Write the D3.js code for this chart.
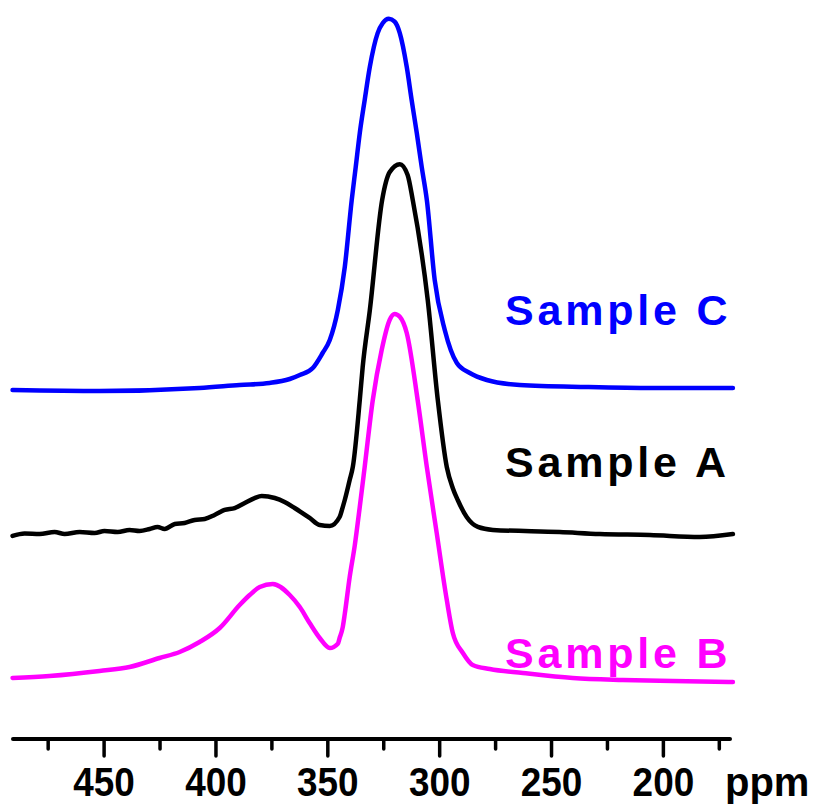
<!DOCTYPE html>
<html lang="en">

<head>
  <meta charset="UTF-8">
  <title>NMR spectra</title>
  <style>
    body { margin: 0; background: #fff; }
    svg { display: block; }
  </style>
</head>

<body>
  <svg></svg>
  <script src="https://cdn.jsdelivr.net/npm/d3@7"></script>
  <script>
    // chemical shift (ppm), relative intensity above each trace's own baseline
    var sampleB = [
      [490.7, 0.83], [474.2, 1.11], [451.8, 1.81], [438.4, 2.36], [425.0, 3.61],
      [416.0, 4.44], [407.1, 5.83], [398.1, 7.78], [389.2, 10.97], [384.7, 12.36],
      [380.2, 13.47], [374.4, 13.89], [366.8, 12.36], [362.3, 10.69], [357.9, 8.47],
      [353.4, 6.39], [348.9, 5.0], [345.3, 5.6], [344.5, 6.39], [343.1, 7.9],
      [342.2, 9.72], [340.0, 14.86], [337.7, 19.31], [335.5, 24.58], [333.3, 30.14],
      [329.7, 39.4], [325.7, 46.4], [322.1, 50.6], [319.9, 51.4], [317.6, 51.0],
      [314.5, 48.75], [309.6, 39.4], [305.5, 30.1], [301.1, 20.97], [296.6, 11.67],
      [293.9, 7.08], [289.4, 4.31], [285.0, 2.64], [277.4, 2.08], [262.6, 1.53],
      [240.3, 0.83], [217.9, 0.56], [195.5, 0.42], [168.7, 0.28]
    ];
    var sampleA = [
      [490.7, 0.56], [485.3, 0.90], [478.6, 0.83], [471.9, 1.11], [467.4, 0.83],
      [460.7, 1.11], [454.0, 0.97], [449.6, 1.25], [443.7, 1.11], [438.4, 1.39],
      [433.9, 1.25], [429.4, 1.53], [425.9, 1.81], [422.7, 1.53], [418.2, 2.22],
      [413.8, 2.36], [409.3, 2.78], [404.8, 2.92], [400.4, 3.47], [395.9, 4.17],
      [391.4, 4.44], [386.9, 5.14], [382.5, 5.83], [379.3, 6.11], [373.5, 5.83],
      [369.1, 5.28], [364.6, 4.44], [357.9, 3.06], [353.4, 2.08], [348.9, 1.94],
      [344.5, 3.19], [343.1, 4.58], [342.2, 5.56], [340.0, 8.33], [338.6, 10.14],
      [335.5, 19.4], [334.2, 24.0], [331.0, 31.9], [325.5, 47.2], [322.1, 51.1],
      [317.6, 52.2], [314.1, 50.7], [311.8, 47.2], [305.1, 33.3], [300.6, 19.4],
      [296.6, 10.14], [293.9, 7.2], [291.7, 5.56], [287.7, 3.19], [282.7, 1.81],
      [276.0, 1.4], [246.1, 1.11], [228.2, 0.83], [205.8, 0.69], [183.5, 0.42],
      [168.7, 0.83]
    ];
    var sampleC = [
      [490.7, 0.83], [451.8, 0.69], [407.1, 1.11], [389.2, 1.53], [375.8, 1.81],
      [366.8, 2.36], [362.3, 2.92], [356.5, 3.89], [352.1, 5.97], [348.9, 7.78],
      [345.3, 11.94], [342.2, 17.9], [339.1, 27.2], [337.3, 31.8], [335.5, 36.5],
      [333.3, 41.1], [331.0, 45.7], [327.5, 50.4], [325.2, 51.8], [322.5, 52.4],
      [319.9, 52.0], [317.6, 50.4], [314.5, 45.7], [312.3, 41.1], [310.0, 36.5],
      [307.8, 31.8], [305.5, 27.2], [302.0, 16.1], [297.5, 9.17], [292.1, 4.58],
      [286.3, 3.19], [278.7, 2.22], [264.0, 1.53], [234.0, 1.25], [204.5, 1.11],
      [168.7, 1.11]
    ];

    var seriesNames = ["Sample B", "Sample A", "Sample C"];
    var seriesColors = ["#ff00ff", "#000000", "#0000ff"];
    var seriesOffsets = [5, 25, 45];   // vertical stacking of the traces
    var seriesData = [sampleB, sampleA, sampleC];
    var labelLevels = [7.2, 33.8, 54.8]; // label baselines, same units as the traces

    var majorTicks = [450, 400, 350, 300, 250, 200];
    var minorTicks = [475, 425, 375, 325, 275, 225, 175];
    var unit = "ppm";

    var width = 819, height = 805;
    var svg = d3.select("svg")
      .attr("width", width)
      .attr("height", height);

    var x = d3.scaleLinear()
      .domain([490.5, 170])
      .range([13, 730]);
    var y = d3.scaleLinear()
      .domain([0, 100])
      .range([720, 0]);

    // 谱线
    var line = d3.line()
      .x(function(d) { return x(d[0]); })
      .y(function(d) { return y(d[1]); })
      .curve(d3.curveMonotoneX);

    svg.append("g")
      .selectAll("path")
      .data(seriesData)
      .join("path")
      .attr("fill", "none")
      .attr("stroke", function(d, i) { return seriesColors[i]; })
      .attr("stroke-width", 4.5)
      .attr("stroke-linejoin", "round")
      .attr("stroke-linecap", "round")
      .attr("d", function(d, i) {
        var off = seriesOffsets[i];
        return line(d.map(function(p) { return [p[0], p[1] + off]; }));
      });

    // 标签
    svg.append("g")
      .selectAll("text")
      .data(seriesNames)
      .join("text")
      .attr("x", 505)
      .attr("y", function(d, i) { return y(labelLevels[i]); })
      .attr("fill", function(d, i) { return seriesColors[i]; })
      .attr("font-family", "Liberation Sans, Arial, sans-serif")
      .attr("font-weight", "bold")
      .attr("font-size", "43px")
      .attr("letter-spacing", "3.8px")
      .text(function(d) { return d; });

    // 坐标轴
    var axisY = 739;
    var axisG = svg.append("g")
      .attr("transform", "translate(0," + axisY + ")");

    axisG.append("g")
      .call(d3.axisBottom(x).tickValues(minorTicks).tickSize(10).tickFormat(""))
      .call(function(g) { g.select(".domain").remove(); });

    var major = axisG.append("g")
      .call(d3.axisBottom(x).tickValues(majorTicks).tickSize(17).tickPadding(11)
        .tickFormat(d3.format("d")));
    major.select(".domain").remove();

    axisG.selectAll(".tick line")
      .attr("stroke", "#000")
      .attr("stroke-width", 3.5)
      .attr("stroke-linecap", "round");

    major.selectAll(".tick text")
      .attr("fill", "#000")
      .attr("font-family", "Liberation Sans, Arial, sans-serif")
      .attr("font-weight", "bold")
      .attr("font-size", "41px")
      .attr("transform", "scale(0.9,1)")
      .attr("dy", "0.71em");

    axisG.append("line")
      .attr("x1", x.range()[0])
      .attr("x2", x.range()[1])
      .attr("stroke", "#000")
      .attr("stroke-width", 4)
      .attr("stroke-linecap", "round");

    axisG.append("text")
      .attr("x", 725)
      .attr("y", 57)
      .attr("font-family", "Liberation Sans, Arial, sans-serif")
      .attr("font-weight", "bold")
      .attr("font-size", "40px")
      .text(unit);
  </script>
</body>

</html>
